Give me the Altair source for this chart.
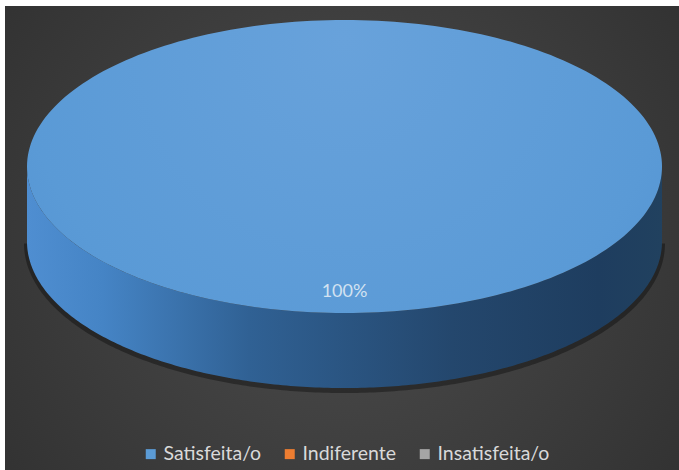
import altair as alt
import pandas as pd

# ---- data ----
categorias = ["Satisfeita/o", "Indiferente", "Insatisfeita/o"]
valores = [100, 0, 0]
cores = ["#5b9bd5", "#ed7d31", "#a5a5a5"]

# ---- layout constants (pixels inside the view) ----
W, H = 674, 464
CX, CY = 339.5, 160.5
RX, RY = 317.5, 146.5
DEPTH = 75
N = 240
LABEL_F = 0.86

df = pd.DataFrame({"categoria": categorias, "valor": valores,
                   "ordem": list(range(len(categorias)))})

xenc = alt.X("px:Q", scale=alt.Scale(domain=[0, W], nice=False, zero=False), axis=None)
yenc = alt.Y("py:Q", scale=alt.Scale(domain=[0, H], reverse=True, nice=False, zero=False), axis=None)


def stops(pairs):
    return [alt.GradientStop(color=c, offset=o) for o, c in pairs]


grad_bg = alt.RadialGradient(gradient="radial", x1=0.5, y1=0.5, x2=0.5, y2=0.5, r1=0, r2=0.78,
                             stops=stops([(0, "#4d4d4d"), (1, "#2b2b2b")]))
grad_top = alt.RadialGradient(gradient="radial", x1=0.5, y1=0.3, x2=0.5, y2=0.3, r1=0, r2=0.85,
                              stops=stops([(0, "#68a2db"), (0.6, "#5a9ad6"), (1, "#4c8cce")]))
grad_side = alt.LinearGradient(gradient="linear", x1=0, y1=0, x2=1, y2=0,
                               stops=stops([(0, "#4f8ed1"), (0.12, "#4584c5"), (0.35, "#306194"),
                                            (0.67, "#24476d"), (0.9, "#1e3d5f"), (1, "#21415f")]))

base = alt.Chart(df).transform_joinaggregate(
    total="sum(valor)"
).transform_window(
    acum="sum(valor)", sort=[alt.SortField("ordem")], frame=[None, 0]
).transform_calculate(
    t1="2*PI*datum.acum/datum.total",
    t0="2*PI*(datum.acum-datum.valor)/datum.total",
)

slices = base.transform_filter("datum.valor > 0")

background = alt.Chart(alt.Data(values=[{"a": 1}])).mark_rect(fill=grad_bg, strokeWidth=0).encode(
    x=alt.value(0), x2=alt.value("width"), y=alt.value(0), y2=alt.value("height")
)

front = slices.transform_calculate(
    s0="max(datum.t0, PI/2)", s1="min(datum.t1, 3*PI/2)"
).transform_filter("datum.s1 > datum.s0").transform_calculate(
    k=f"sequence(0, {N + 1})"
).transform_flatten(["k"]).transform_calculate(
    a=f"datum.s0 + (datum.s1-datum.s0)*datum.k/{N}"
).transform_calculate(
    px=f"{CX} + {RX}*sin(datum.a)",
    py=f"{CY} - {RY}*cos(datum.a)",
).transform_calculate(
    py2=f"datum.py + {DEPTH}",
    pyb=f"datum.py + {DEPTH} + 2",
)

shadow = front.mark_line(stroke="#000000", strokeWidth=6, strokeOpacity=0.35).encode(
    x=xenc, y=alt.Y("pyb:Q", scale=alt.Scale(domain=[0, H], reverse=True, nice=False, zero=False), axis=None),
    order=alt.Order("k:Q"), detail="categoria:N"
)

side = front.mark_area(fill=grad_side, strokeWidth=0).encode(
    x=xenc, y=yenc, y2="py2:Q", detail="categoria:N"
)

legend_marks = alt.Chart(df).mark_square(size=100, opacity=1).encode(
    x=alt.value(CX), y=alt.value(CY),
    color=alt.Color("categoria:N", sort=categorias,
                    scale=alt.Scale(domain=categorias, range=cores),
                    legend=alt.Legend(orient="none", legendX=136, legendY=438, direction="horizontal",
                                      title=None, symbolType="square", symbolSize=100,
                                      symbolStrokeWidth=0, labelFont="Lato", labelFontSize=19.5,
                                      labelColor="#d9d9d9", labelOffset=3, columnPadding=18,
                                      padding=0)),
)

top = slices.transform_calculate(
    k=f"sequence(-1, {N + 1})"
).transform_flatten(["k"]).transform_calculate(
    a=f"datum.t0 + (datum.t1-datum.t0)*max(datum.k,0)/{N}"
).transform_calculate(
    px=f"datum.k < 0 ? {CX} : {CX} + {RX}*sin(datum.a)",
    py=f"datum.k < 0 ? {CY} : {CY} - {RY}*cos(datum.a)",
).mark_line(fill=grad_top, strokeOpacity=0, strokeWidth=0).encode(
    x=xenc, y=yenc, order=alt.Order("k:Q"), detail="categoria:N"
)

label = slices.transform_calculate(
    m="(datum.t0+datum.t1)/2"
).transform_calculate(
    px=f"{CX} + {LABEL_F}*{RX}*sin(datum.m)",
    py=f"{CY} - {LABEL_F}*{RY}*cos(datum.m)",
    pct="format(datum.valor/datum.total, '.0%')",
).mark_text(font="Lato", fontSize=18, color="#d3e2f1").encode(
    x=xenc, y=yenc, text="pct:N"
)

chart = alt.layer(background, shadow, legend_marks, side, top, label).properties(
    width=W, height=H,
    padding={"left": 5, "top": 6, "right": 0, "bottom": 0},
    autosize=alt.AutoSizeParams(type="none"),
    background="#ffffff",
).configure_view(strokeWidth=0)

chart.save("out.html", embed_options={"renderer": "svg", "actions": False})
